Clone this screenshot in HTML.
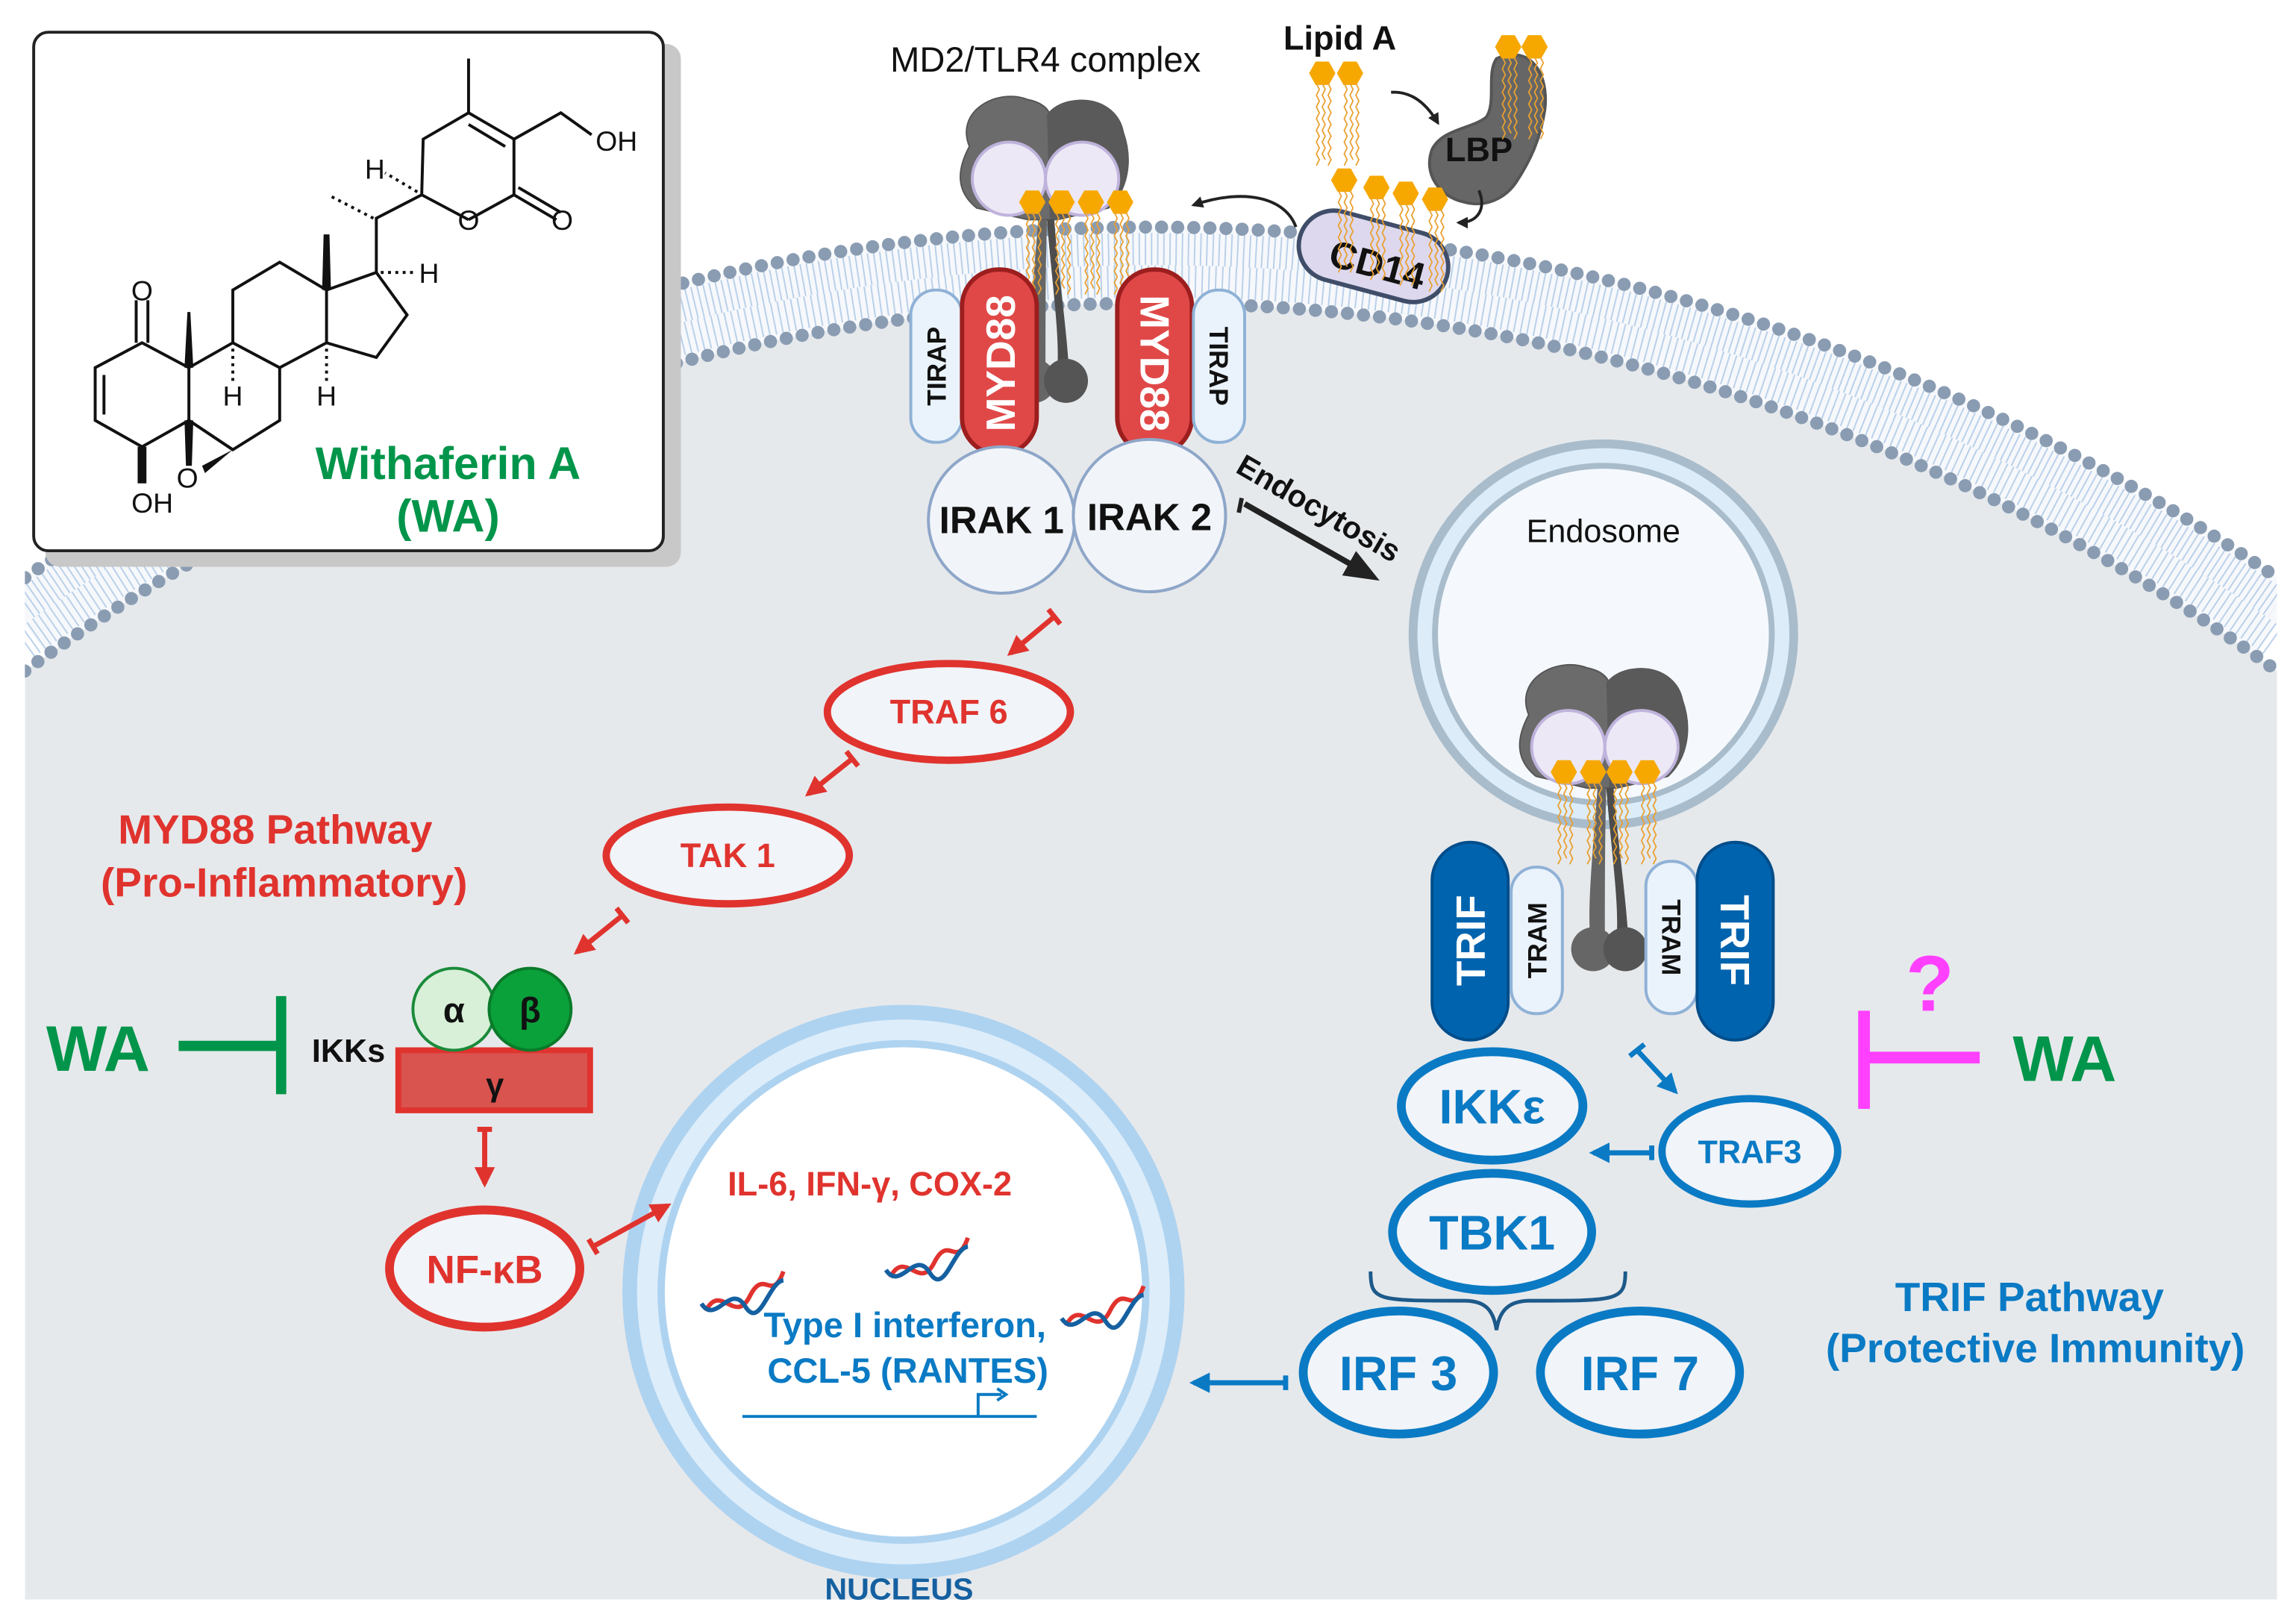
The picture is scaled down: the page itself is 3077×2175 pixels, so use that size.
<!DOCTYPE html>
<html><head><meta charset="utf-8"><style>
html,body{margin:0;padding:0;background:#fff;width:3077px;height:2175px;overflow:hidden;}
svg{display:block;position:absolute;left:0;top:0;}
text{font-family:"Liberation Sans",sans-serif;}
</style></head><body>
<svg width="3077" height="2175" viewBox="0 0 1568 1108" preserveAspectRatio="none" xmlns="http://www.w3.org/2000/svg">
<defs>
<clipPath id="cell"><rect x="17" y="0" width="1538" height="1092"/></clipPath>
<marker id="ar" viewBox="0 0 10 10" refX="8" refY="5" markerWidth="4" markerHeight="4" orient="auto"><path d="M0,0 L10,5 L0,10 z" fill="#e0332e"/></marker>
<marker id="ab" viewBox="0 0 10 10" refX="8" refY="5" markerWidth="4" markerHeight="4" orient="auto"><path d="M0,0 L10,5 L0,10 z" fill="#0a7ac4"/></marker>
<marker id="ak" viewBox="0 0 10 10" refX="8" refY="5" markerWidth="4" markerHeight="4" orient="auto"><path d="M0,0 L10,5 L0,10 z" fill="#222"/></marker>
<marker id="ak2" viewBox="0 0 10 10" refX="8" refY="5" markerWidth="6" markerHeight="6" orient="auto"><path d="M0,1 L10,5 L0,9 z" fill="#222"/></marker>
<g id="lip">
 <polygon points="-9,0 -4.5,-8 4.5,-8 9,0 4.5,8 -4.5,8" fill="#f7a800"/>
 <path d="M-4,7 l2,4 l-2,4 l2,4 l-2,4 l2,4 l-2,4 l2,4 l-2,4 l2,4 l-2,4 l2,4 l-2,4 l2,4 l-2,4 M0,7 l2,4 l-2,4 l2,4 l-2,4 l2,4 l-2,4 l2,4 l-2,4 l2,4 l-2,4 l2,4 l-2,4 l2,4 M4,7 l2,4 l-2,4 l2,4 l-2,4 l2,4 l-2,4 l2,4 l-2,4 l2,4 l-2,4 l2,4 l-2,4 l2,4 l-2,4" fill="none" stroke="#e9a030" stroke-width="0.9"/>
</g>
<g id="tlr">
 <path d="M-50,-30 C-60,-55 -30,-70 -10,-62 C0,-60 5,-55 5,-50 C15,-68 50,-65 55,-40 C62,-20 58,0 45,12 L10,20 L-10,20 L-45,12 C-60,0 -58,-15 -50,-30 z" fill="#6b6b6b" stroke="#555" stroke-width="1"/>
 <path d="M3,-52 C15,-68 50,-65 55,-40 C62,-20 58,0 45,12 L5,20 z" fill="#5a5a5a"/>
 <circle cx="-23" cy="-8" r="25" fill="#ece8f6" stroke="#bfb3dc" stroke-width="2"/>
 <circle cx="27" cy="-8" r="25" fill="#ece8f6" stroke="#bfb3dc" stroke-width="2"/>
 <path d="M-3,20 C-6,60 -10,100 -8,122 L2,122 C2,90 2,50 3,20 z" fill="#666"/>
 <path d="M3,20 C6,60 12,100 10,122 L18,122 C16,90 10,50 8,20 z" fill="#4c4c4c"/>
 <circle cx="-6" cy="130" r="15" fill="#666"/>
 <circle cx="16" cy="130" r="15" fill="#555"/>
</g>
<g id="dna">
 <path d="M-25,15 C-15,-5 -5,25 5,5 C15,-15 20,10 28,-12" fill="none" stroke="#e0332e" stroke-width="3"/>
 <path d="M-28,10 C-18,25 -8,-5 2,12 C12,28 18,-5 28,-6" fill="none" stroke="#1560a0" stroke-width="3"/>
</g>
</defs>

<g clip-path="url(#cell)">
 <path d="M17,426.1 A1329,1329 0 0 1 1555,426.1" fill="none" stroke="#f6f8fb" stroke-width="52"/>
 <path d="M17,412.6 A1340,1340 0 0 1 1555,412.6" fill="none" stroke="#b9d0ea" stroke-width="22" stroke-dasharray="1 3.2"/>
 <path d="M17,439.6 A1318,1318 0 0 1 1555,439.6" fill="none" stroke="#b9d0ea" stroke-width="22" stroke-dasharray="1 3.6"/>
 <path d="M17,458.1 A1303,1303 0 0 1 1555,458.1 L1555,1092 L17,1092 Z" fill="#e6e9ec"/>
 <path d="M17,394.4 A1355,1355 0 0 1 1555,394.4" fill="none" stroke="#8a9cb2" stroke-width="9" stroke-linecap="round" stroke-dasharray="0 11"/>
 <path d="M17,458.1 A1303,1303 0 0 1 1555,458.1" fill="none" stroke="#8a9cb2" stroke-width="9" stroke-linecap="round" stroke-dasharray="0 11"/>
</g>

<rect x="31" y="30" width="434" height="357" rx="10" fill="#c8c8c8"/>
<rect x="23" y="22" width="430" height="354" rx="10" fill="#fff" stroke="#222" stroke-width="2"/>
<g stroke="#111" stroke-width="2" fill="none">
 <path d="M97,234 L65,251 L65,287 L97,305 L129,287 L129,251 z"/>
 <path d="M71,256 L71,283"/>
 <path d="M93,234 L93,205 M101,234 L101,205"/>
 <path d="M129,251 L159,234 L191,251 L191,287 L159,307 L129,287"/>
 <path d="M159,234 L159,198 L191,179 L223,198 L223,234 L191,251"/>
 <path d="M223,198 L257,186 L278,215 L257,244 L223,234"/>
 <path d="M257,186 L257,149 L288,133 L320,150"/>
 <path d="M320,150 L351,133 L351,95 L320,77 L289,95 L288,133"/>
 <path d="M345,100 L320,85"/>
 <path d="M351,133 L380,150 M354,128 L383,145"/>
 <path d="M320,77 L320,40 M351,95 L383,77 L404,92"/>
 <path d="M129,287 L159,307"/>
</g>
<g fill="#111">
 <polygon points="126,251 132,251 130,213 128,213"/>
 <polygon points="220,198 226,198 225,160 221,160"/>
 <polygon points="94,305 100,305 100,330 94,330"/>
 <polygon points="126,287 132,287 131,318 127,318"/>
 <polygon points="159,307 138,318 140,323"/>
</g>
<g stroke="#111" stroke-width="2" stroke-dasharray="2 3">
 <path d="M159,238 L159,262"/><path d="M223,238 L223,262"/>
 <path d="M260,186 L284,186"/><path d="M255,149 L224,133"/><path d="M285,131 L263,118"/>
</g>
<g font-size="19" fill="#111">
 <text x="97" y="205" text-anchor="middle">O</text>
 <text x="159" y="277" text-anchor="middle">H</text>
 <text x="223" y="277" text-anchor="middle">H</text>
 <text x="104" y="350" text-anchor="middle">OH</text>
 <text x="128" y="333" text-anchor="middle">O</text>
 <text x="293" y="193" text-anchor="middle">H</text>
 <text x="256" y="122" text-anchor="middle">H</text>
 <text x="320" y="157" text-anchor="middle">O</text>
 <text x="384" y="157" text-anchor="middle">O</text>
 <text x="421" y="103" text-anchor="middle">OH</text>
</g>
<text x="306" y="327" font-size="31" font-weight="bold" fill="#00954a" text-anchor="middle">Withaferin A</text>
<text x="306" y="363" font-size="31" font-weight="bold" fill="#00954a" text-anchor="middle">(WA)</text>

<text x="714" y="49" font-size="24" fill="#111" text-anchor="middle">MD2/TLR4 complex</text>
<text x="915" y="34" font-size="23" font-weight="bold" fill="#111" text-anchor="middle">Lipid A</text>
<use href="#lip" x="903" y="50"/><use href="#lip" x="922" y="50"/>
<path d="M1022,40 C1045,30 1058,50 1055,75 C1052,95 1045,110 1035,125 C1028,135 1015,142 1000,138 C982,134 972,118 978,102 C985,88 1005,88 1015,80 C1022,70 1015,50 1022,40 z" fill="#666" stroke="#555" stroke-width="2"/>
<text x="1010" y="110" font-size="23" font-weight="bold" fill="#111" text-anchor="middle">LBP</text>
<use href="#lip" x="1030" y="32"/><use href="#lip" x="1048" y="32"/>
<path d="M950,63 C965,62 975,72 982,84" fill="none" stroke="#222" stroke-width="2" marker-end="url(#ak)"/>
<path d="M1010,130 C1015,142 1010,152 996,152" fill="none" stroke="#222" stroke-width="2" marker-end="url(#ak)"/>
<path d="M885,155 C878,135 850,128 815,140" fill="none" stroke="#222" stroke-width="2" marker-end="url(#ak)"/>

<g transform="translate(938,175) rotate(15)">
 <rect x="-52" y="-24" width="104" height="48" rx="24" fill="#ddd8ee" stroke="#3f4d68" stroke-width="3"/>
 <text x="4" y="14" font-size="26" font-weight="bold" fill="#111" text-anchor="middle">CD14</text>
</g>
<use href="#lip" x="918" y="123"/><use href="#lip" x="940" y="128"/><use href="#lip" x="960" y="132"/><use href="#lip" x="980" y="136"/>

<use href="#tlr" x="712" y="130"/>
<use href="#lip" x="705" y="138"/><use href="#lip" x="725" y="138"/><use href="#lip" x="745" y="138"/><use href="#lip" x="765" y="138"/>

<rect x="622" y="198" width="35" height="104" rx="17" fill="#eaf3fb" stroke="#8fb1d6" stroke-width="2"/>
<text transform="translate(646,250) rotate(-90)" font-size="18" font-weight="bold" fill="#111" text-anchor="middle">TIRAP</text>
<rect x="657" y="184" width="51" height="126" rx="25" fill="#e04848" stroke="#9c1e1e" stroke-width="3"/>
<text transform="translate(693,248) rotate(-90)" font-size="28" font-weight="bold" fill="#fff" text-anchor="middle">MYD88</text>
<rect x="763" y="184" width="51" height="126" rx="25" fill="#e04848" stroke="#9c1e1e" stroke-width="3"/>
<text transform="translate(779,248) rotate(90)" font-size="28" font-weight="bold" fill="#fff" text-anchor="middle">MYD88</text>
<rect x="815" y="198" width="35" height="104" rx="17" fill="#eaf3fb" stroke="#8fb1d6" stroke-width="2"/>
<text transform="translate(826,250) rotate(90)" font-size="18" font-weight="bold" fill="#111" text-anchor="middle">TIRAP</text>

<circle cx="684" cy="355" r="50" fill="#f1f4f9" stroke="#8ea6c8" stroke-width="2"/>
<circle cx="785" cy="352" r="52" fill="#f1f4f9" stroke="#8ea6c8" stroke-width="2"/>
<text x="684" y="364" font-size="26" font-weight="bold" fill="#111" text-anchor="middle">IRAK 1</text>
<text x="785" y="362" font-size="26" font-weight="bold" fill="#111" text-anchor="middle">IRAK 2</text>

<path d="M850,344 L938,394" stroke="#222" stroke-width="4" marker-end="url(#ak2)"/>
<path d="M848,340 L846,350" stroke="#222" stroke-width="3"/>
<text transform="translate(843,322) rotate(30)" font-size="21" font-weight="bold" fill="#111">Endocytosis</text>

<circle cx="1095" cy="433" r="130" fill="#dcecf9" stroke="#a8bccb" stroke-width="6"/>
<circle cx="1095" cy="433" r="115" fill="#f5f9fd" stroke="#a8bccb" stroke-width="4"/>
<text x="1095" y="370" font-size="22" fill="#111" text-anchor="middle">Endosome</text>
<use href="#tlr" x="1094" y="518"/>
<use href="#lip" x="1068" y="527"/><use href="#lip" x="1088" y="527"/><use href="#lip" x="1106" y="527"/><use href="#lip" x="1125" y="527"/>

<rect x="978" y="575" width="52" height="135" rx="26" fill="#0063ae" stroke="#004d8a" stroke-width="2"/>
<text transform="translate(1014,642) rotate(-90)" font-size="28" font-weight="bold" fill="#fff" text-anchor="middle">TRIF</text>
<rect x="1032" y="592" width="35" height="100" rx="17" fill="#eaf2fb" stroke="#8fb1d6" stroke-width="2"/>
<text transform="translate(1056,642) rotate(-90)" font-size="18" font-weight="bold" fill="#111" text-anchor="middle">TRAM</text>
<rect x="1124" y="588" width="35" height="104" rx="17" fill="#eaf2fb" stroke="#8fb1d6" stroke-width="2"/>
<text transform="translate(1135,640) rotate(90)" font-size="18" font-weight="bold" fill="#111" text-anchor="middle">TRAM</text>
<rect x="1159" y="575" width="52" height="135" rx="26" fill="#0063ae" stroke="#004d8a" stroke-width="2"/>
<text transform="translate(1175,642) rotate(90)" font-size="28" font-weight="bold" fill="#fff" text-anchor="middle">TRIF</text>

<ellipse cx="617" cy="882" rx="192" ry="196" fill="#aed3f0"/>
<ellipse cx="617" cy="882" rx="182" ry="186" fill="#ddedfa"/>
<ellipse cx="617" cy="882" rx="168" ry="172" fill="#aed3f0"/>
<ellipse cx="617" cy="882" rx="163" ry="167" fill="#fff"/>
<text x="614" y="1092" font-size="21" font-weight="bold" fill="#1560a0" text-anchor="middle">NUCLEUS</text>
<text x="594" y="816" font-size="23" font-weight="bold" fill="#e0332e" text-anchor="middle">IL-6, IFN-γ, COX-2</text>
<use href="#dna" x="507" y="880"/><use href="#dna" x="633" y="857"/><use href="#dna" x="753" y="890"/>
<text x="618" y="913" font-size="24" font-weight="bold" fill="#0a7ac4" text-anchor="middle">Type I interferon,</text>
<text x="620" y="944" font-size="24" font-weight="bold" fill="#0a7ac4" text-anchor="middle">CCL-5 (RANTES)</text>
<path d="M507,967 L708,967 M668,967 L668,952 L684,952" fill="none" stroke="#0a7ac4" stroke-width="2"/>
<path d="M681,948 L687,952 L681,956" fill="none" stroke="#0a7ac4" stroke-width="2"/>

<text x="188" y="576" font-size="28" font-weight="bold" fill="#e0332e" text-anchor="middle">MYD88 Pathway</text>
<text x="194" y="612" font-size="28" font-weight="bold" fill="#e0332e" text-anchor="middle">(Pro-Inflammatory)</text>
<g stroke="#e0332e" stroke-width="3.5" fill="none">
 <path d="M720,421 L690,446" marker-end="url(#ar)"/><path d="M716,416 L724,426"/>
 <path d="M582,518 L552,542" marker-end="url(#ar)"/><path d="M578,513 L586,523"/>
 <path d="M425,625 L394,650" marker-end="url(#ar)"/><path d="M421,620 L429,630"/>
 <path d="M331,771 L331,808" marker-end="url(#ar)"/><path d="M326,771 L336,771"/>
 <path d="M405,851 L456,823" marker-end="url(#ar)"/><path d="M402,846 L408,856"/>
</g>
<ellipse cx="648" cy="486" rx="83" ry="33" fill="#f1f4f9" stroke="#e0332e" stroke-width="5"/>
<text x="648" y="494" font-size="23" font-weight="bold" fill="#e0332e" text-anchor="middle">TRAF 6</text>
<ellipse cx="497" cy="584" rx="83" ry="33" fill="#f1f4f9" stroke="#e0332e" stroke-width="5"/>
<text x="497" y="592" font-size="23" font-weight="bold" fill="#e0332e" text-anchor="middle">TAK 1</text>
<ellipse cx="331" cy="866" rx="65" ry="40" fill="#f1f4f9" stroke="#e0332e" stroke-width="6"/>
<text x="331" y="876" font-size="27" font-weight="bold" fill="#e0332e" text-anchor="middle">NF-κB</text>

<rect x="272" y="717" width="131" height="41" fill="#d9534f" stroke="#e0332e" stroke-width="4"/>
<circle cx="310" cy="689" r="28" fill="#d8f0d8" stroke="#1a8a3a" stroke-width="2"/>
<circle cx="362" cy="689" r="28" fill="#0aa03a" stroke="#0a7a2a" stroke-width="2"/>
<text x="310" y="698" font-size="24" font-weight="bold" fill="#111" text-anchor="middle">α</text>
<text x="362" y="698" font-size="24" font-weight="bold" fill="#111" text-anchor="middle">β</text>
<text x="338" y="748" font-size="22" font-weight="bold" fill="#111" text-anchor="middle">γ</text>
<text x="238" y="725" font-size="22" font-weight="bold" fill="#111" text-anchor="middle">IKKs</text>
<text x="67" y="731" font-size="44" font-weight="bold" fill="#00954a" text-anchor="middle">WA</text>
<path d="M122,714 L192,714 M192,680 L192,747" stroke="#00954a" stroke-width="7" fill="none"/>

<g stroke="#0a7ac4" stroke-width="3.5" fill="none">
 <path d="M1118,717 L1144,745" marker-end="url(#ab)"/><path d="M1113,721 L1123,713"/>
 <path d="M1128,787 L1088,787" marker-end="url(#ab)"/><path d="M1128,782 L1128,792"/>
 <path d="M878,944 L815,944" marker-end="url(#ab)"/><path d="M878,939 L878,949"/>
 <path d="M936,868 C936,888 940,888 1000,888 C1015,888 1020,895 1022,908 C1024,895 1030,888 1045,888 C1105,888 1110,888 1110,868" stroke="#1d5a8a" stroke-width="2.5"/>
</g>
<ellipse cx="1019" cy="755" rx="62" ry="37" fill="#f1f4f9" stroke="#0a7ac4" stroke-width="6"/>
<text x="1019" y="767" font-size="33" font-weight="bold" fill="#0a7ac4" text-anchor="middle">IKKε</text>
<ellipse cx="1195" cy="786" rx="60" ry="36" fill="#f1f4f9" stroke="#0a7ac4" stroke-width="5"/>
<text x="1195" y="794" font-size="22" font-weight="bold" fill="#0a7ac4" text-anchor="middle">TRAF3</text>
<ellipse cx="1019" cy="841" rx="68" ry="40" fill="#f1f4f9" stroke="#0a7ac4" stroke-width="6"/>
<text x="1019" y="853" font-size="33" font-weight="bold" fill="#0a7ac4" text-anchor="middle">TBK1</text>
<ellipse cx="955" cy="937" rx="65" ry="42" fill="#f1f4f9" stroke="#0a7ac4" stroke-width="6"/>
<text x="955" y="949" font-size="33" font-weight="bold" fill="#0a7ac4" text-anchor="middle">IRF 3</text>
<ellipse cx="1120" cy="937" rx="68" ry="42" fill="#f1f4f9" stroke="#0a7ac4" stroke-width="6"/>
<text x="1120" y="949" font-size="33" font-weight="bold" fill="#0a7ac4" text-anchor="middle">IRF 7</text>
<path d="M1273,690 L1273,757 M1273,722 L1352,722" stroke="#ff40ff" stroke-width="8" fill="none"/>
<text x="1318" y="690" font-size="54" font-weight="bold" fill="#ff40ff" text-anchor="middle">?</text>
<text x="1410" y="738" font-size="44" font-weight="bold" fill="#00954a" text-anchor="middle">WA</text>
<text x="1386" y="895" font-size="28" font-weight="bold" fill="#0a7ac4" text-anchor="middle">TRIF Pathway</text>
<text x="1390" y="930" font-size="28" font-weight="bold" fill="#0a7ac4" text-anchor="middle">(Protective Immunity)</text>
</svg>
</body></html>
